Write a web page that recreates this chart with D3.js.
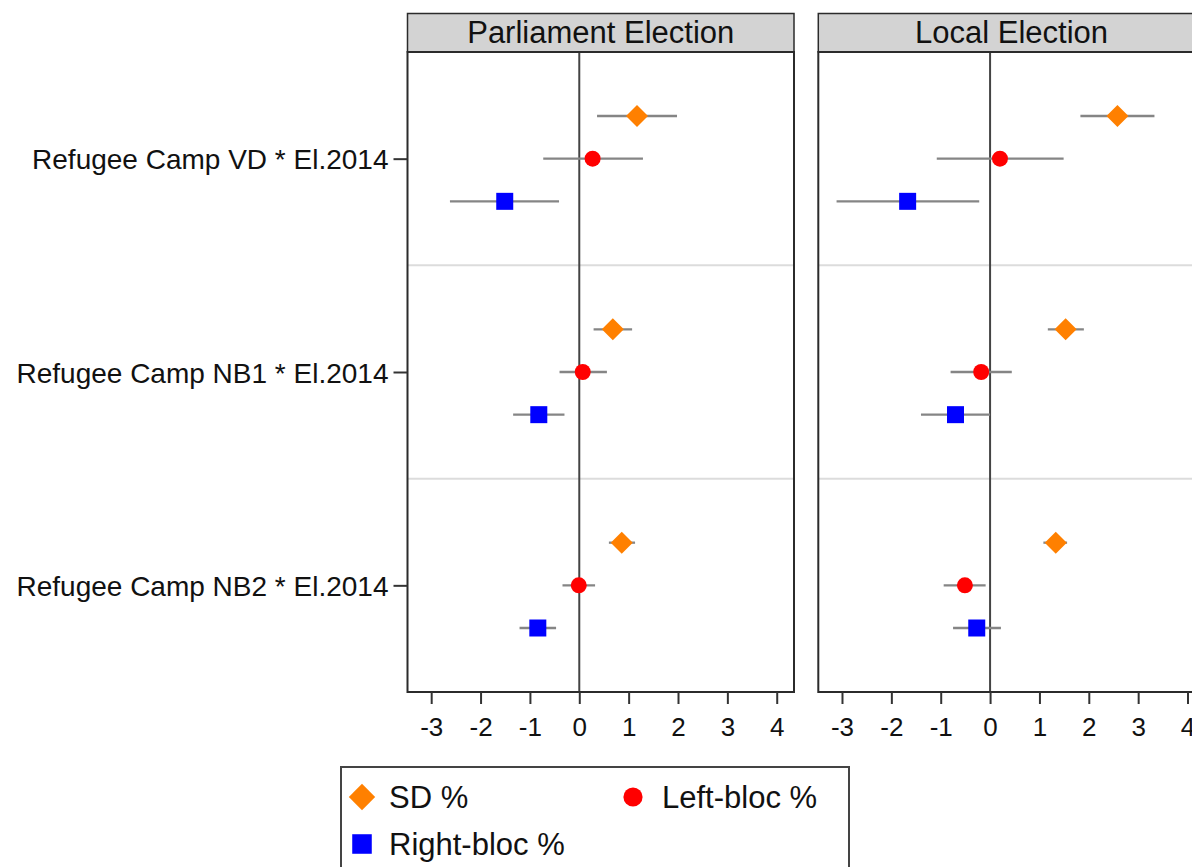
<!DOCTYPE html>
<html>
<head>
<meta charset="utf-8">
<script src="https://cdn.jsdelivr.net/npm/d3@7"></script>
<style>
  html, body { margin: 0; padding: 0; background: #fff; }
  svg { display: block; font-family: "Liberation Sans", Arial, sans-serif; }
</style>
</head>
<body>
<svg id="chart" width="1192" height="867"></svg>
<script>
// ---- data ----
const categories = ["Refugee Camp VD * El.2014", "Refugee Camp NB1 * El.2014", "Refugee Camp NB2 * El.2014"];
const panels = ["Parliament Election", "Local Election"];
const seriesNames = ["SD %", "Left-bloc %", "Right-bloc %"];
const xTicks = [-3, -2, -1, 0, 1, 2, 3, 4];

// Parliament Election: [estimate, lower, upper] per category
const parlSD    = [[1.17, 0.36, 1.98], [0.68, 0.29, 1.07], [0.86, 0.60, 1.13]];
const parlLeft  = [[0.27, -0.73, 1.29], [0.07, -0.40, 0.56], [-0.01, -0.34, 0.32]];
const parlRight = [[-1.51, -2.62, -0.41], [-0.82, -1.34, -0.30], [-0.84, -1.21, -0.47]];
// Local Election
const localSD    = [[2.58, 1.83, 3.33], [1.53, 1.17, 1.90], [1.33, 1.08, 1.56]];
const localLeft  = [[0.20, -1.08, 1.49], [-0.18, -0.80, 0.44], [-0.51, -0.94, -0.09]];
const localRight = [[-1.67, -3.11, -0.22], [-0.70, -1.40, 0.00], [-0.27, -0.75, 0.22]];

const panelData = [
  [parlSD, parlLeft, parlRight],
  [localSD, localLeft, localRight]
];

// ---- styling ----
const colors = ["#FF8000", "#FF0000", "#0000FF"];
const offsets = [-0.2, 0, 0.2];
const textColor = "#111";
const frameColor = "#2b2b2b";

const svg = d3.select("#chart");

const plotTop = 52, plotBottom = 692;
const panelLefts = [407.5, 818.3];
const panelWidth = 386.5;
const headerTop = 13.5;

const y = d3.scaleLinear().domain([0.5, 3.5]).range([plotTop, plotBottom]);

function markerPath(i, scale) {
  if (i === 0) {
    const h = 11 * scale;
    return `M0,${-h}L${h},0L0,${h}L${-h},0Z`;
  } else if (i === 1) {
    const r = 8 * scale;
    return d3.symbol().type(d3.symbolCircle).size(Math.PI * r * r)();
  } else {
    const s = 17 * scale;
    return d3.symbol().type(d3.symbolSquare).size(s * s)();
  }
}

panels.forEach((title, p) => {
  const x0 = panelLefts[p];
  const x = d3.scaleLinear().domain([-3.48, 4.35]).range([x0, x0 + panelWidth]);
  const g = svg.append("g");

  // header strip
  g.append("rect")
    .attr("x", x0).attr("y", headerTop)
    .attr("width", panelWidth).attr("height", plotTop - headerTop)
    .attr("fill", "#d3d3d3").attr("stroke", frameColor).attr("stroke-width", 1.5);
  g.append("text")
    .attr("x", x0 + panelWidth / 2).attr("y", 42.5)
    .attr("text-anchor", "middle")
    .attr("font-size", 31).attr("fill", textColor)
    .text(title);

  // separators between categories
  g.selectAll("line.sep").data([1.5, 2.5]).enter().append("line")
    .attr("class", "sep")
    .attr("x1", x0).attr("x2", x0 + panelWidth)
    .attr("y1", d => y(d)).attr("y2", d => y(d))
    .attr("stroke", "#dcdcdc").attr("stroke-width", 2);

  // zero line
  g.append("line")
    .attr("x1", x(0)).attr("x2", x(0))
    .attr("y1", plotTop).attr("y2", plotBottom)
    .attr("stroke", "#444").attr("stroke-width", 2);

  // series
  panelData[p].forEach((series, s) => {
    const rows = series.map((v, c) => ({ c: c + 1, est: v[0], lo: v[1], hi: v[2] }));
    g.selectAll(null).data(rows).enter().append("line")
      .attr("x1", d => x(d.lo)).attr("x2", d => x(d.hi))
      .attr("y1", d => y(d.c + offsets[s])).attr("y2", d => y(d.c + offsets[s]))
      .attr("stroke", "#858585").attr("stroke-width", 2.3);
    g.selectAll(null).data(rows).enter().append("path")
      .attr("d", markerPath(s, 1))
      .attr("transform", d => `translate(${x(d.est)},${y(d.c + offsets[s])})`)
      .attr("fill", colors[s]);
  });

  // frame
  g.append("rect")
    .attr("x", x0).attr("y", plotTop)
    .attr("width", panelWidth).attr("height", plotBottom - plotTop)
    .attr("fill", "none").attr("stroke", frameColor).attr("stroke-width", 2);

  // x axis
  const xa = g.append("g")
    .attr("transform", `translate(0,${plotBottom})`)
    .call(d3.axisBottom(x).tickValues(xTicks).tickSize(12).tickFormat(d3.format("d")));
  xa.select(".domain").remove();
  xa.selectAll(".tick line").attr("stroke", "#333").attr("stroke-width", 2);
  xa.selectAll(".tick text")
    .attr("y", 44).attr("dy", 0)
    .attr("font-size", 26).attr("fill", textColor)
    .attr("font-family", "'Liberation Sans', Arial, sans-serif")
    .text(d => d < 0 ? "-" + Math.abs(d) : String(d));

  // y axis (first panel only)
  if (p === 0) {
    const ya = g.append("g")
      .attr("transform", `translate(${x0},0)`)
      .call(d3.axisLeft(y).tickValues([1, 2, 3]).tickSize(14).tickPadding(5)
        .tickFormat(d => categories[d - 1]));
    ya.select(".domain").remove();
    ya.selectAll(".tick line").attr("stroke", "#333").attr("stroke-width", 2);
    ya.selectAll(".tick text")
      .attr("font-size", 28).attr("fill", textColor)
      .attr("dy", "0.36em")
      .attr("font-family", "'Liberation Sans', Arial, sans-serif");
  }
});

// ---- legend ----
const lg = svg.append("g");
lg.append("rect")
  .attr("x", 341).attr("y", 767)
  .attr("width", 508).attr("height", 140)
  .attr("fill", "#fff").attr("stroke", "#444").attr("stroke-width", 2);

const legendItems = [
  { i: 0, mx: 362, my: 797, tx: 389, scale: 1.2 },
  { i: 1, mx: 633, my: 797, tx: 662, scale: 1.2 },
  { i: 2, mx: 362, my: 844, tx: 389, scale: 1.15 }
];
legendItems.forEach(it => {
  lg.append("path")
    .attr("d", markerPath(it.i, it.scale))
    .attr("transform", `translate(${it.mx},${it.my})`)
    .attr("fill", colors[it.i]);
  lg.append("text")
    .attr("x", it.tx).attr("y", it.my + 10.5)
    .attr("font-size", 31).attr("fill", textColor)
    .text(seriesNames[it.i]);
});
</script>
</body>
</html>
